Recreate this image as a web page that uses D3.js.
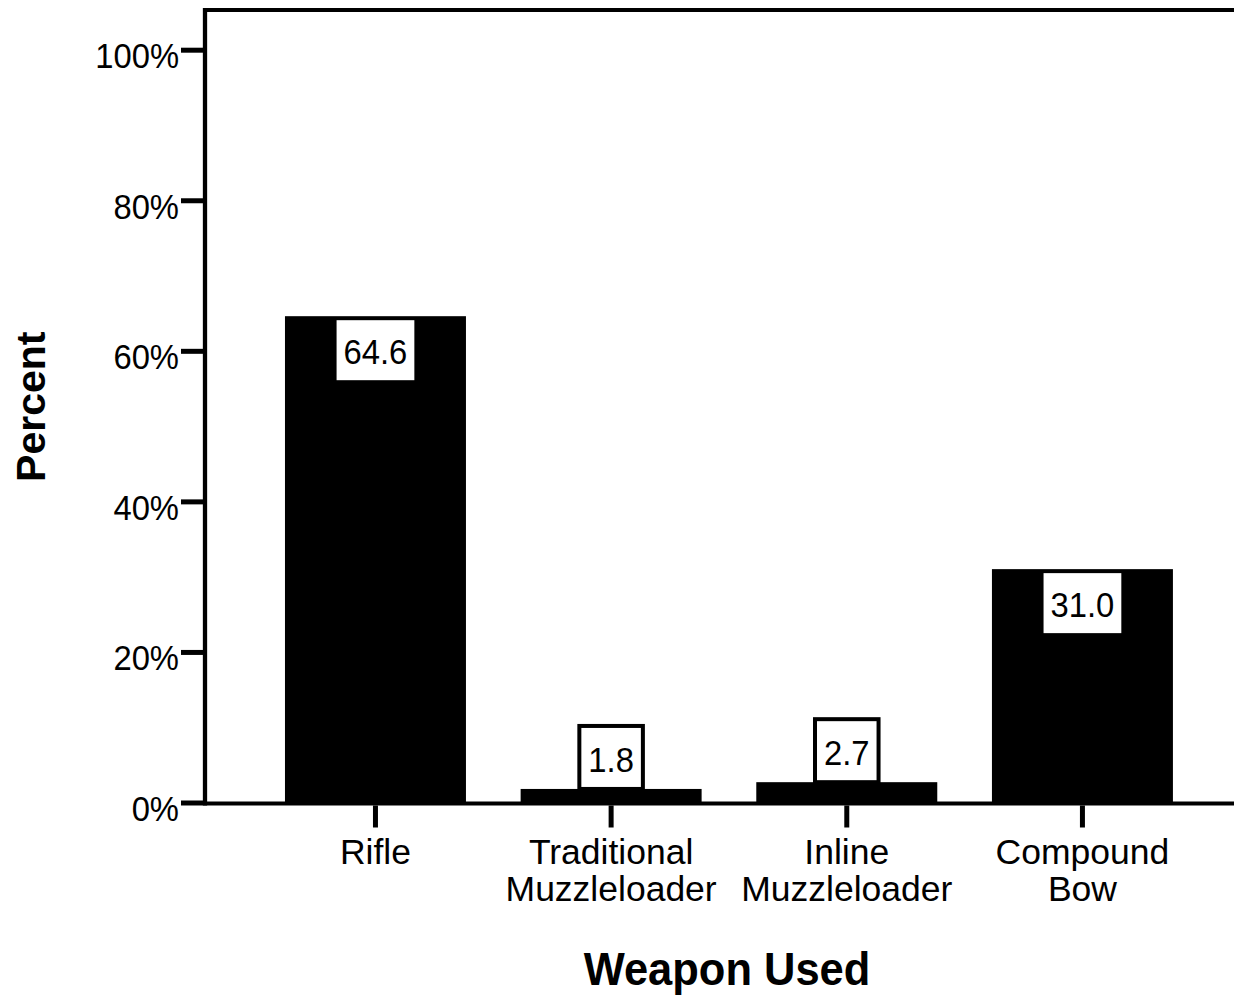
<!DOCTYPE html>
<html><head><meta charset="utf-8">
<script src="https://cdn.jsdelivr.net/npm/d3@7"></script>
<style>html,body{margin:0;padding:0;background:#fff;}svg{display:block;font-family:"Liberation Sans",Arial,sans-serif;}</style>
</head><body>
<svg id="c" width="1234" height="996"></svg>
<script>
const categories = ["Rifle", "Traditional Muzzleloader", "Inline Muzzleloader", "Compound Bow"];
const categoryLines = [["Rifle"], ["Traditional", "Muzzleloader"], ["Inline", "Muzzleloader"], ["Compound", "Bow"]];
const percentValues = [64.6, 1.8, 2.7, 31.0];
const valueLabels = ["64.6", "1.8", "2.7", "31.0"];
const yTicks = [0, 20, 40, 60, 80, 100];
const yTickLabels = ["0%", "20%", "40%", "60%", "80%", "100%"];
const xTitle = "Weapon Used";
const yTitle = "Percent";

(function () {
const svg = d3.select("#c");
const SX = 0.91;
const FF = '"Liberation Sans",Arial,sans-serif';
const plotLeft = 205, plotRight = 1234, plotTop = 10;
const x = d3.scaleBand().domain(categories).range([230.3, 1227.6]).padding(0.232);
const y = d3.scaleLinear().domain([0, 100]).range([802.5, 49.7]);

// bars
svg.append("g").selectAll("rect").data(categories).join("rect")
  .attr("x", d => x(d)).attr("width", x.bandwidth())
  .attr("y", (d, i) => y(percentValues[i]))
  .attr("height", (d, i) => y(0) + 2.5 - y(percentValues[i]))
  .attr("fill", "#000");

// frame lines
svg.append("line").attr("x1", plotLeft).attr("x2", plotRight).attr("y1", plotTop).attr("y2", plotTop).attr("stroke", "#000").attr("stroke-width", 4);
svg.append("line").attr("x1", plotLeft).attr("x2", plotLeft).attr("y1", plotTop - 2).attr("y2", y(0) + 3).attr("stroke", "#000").attr("stroke-width", 4.3);
svg.append("line").attr("x1", plotLeft).attr("x2", plotRight).attr("y1", y(0) + 1).attr("y2", y(0) + 1).attr("stroke", "#000").attr("stroke-width", 4);

// y axis
const yAxis = svg.append("g").attr("transform", `translate(${plotLeft},0)`)
  .call(d3.axisLeft(y).tickValues(yTicks).tickFormat((d, i) => yTickLabels[i]).tickSize(24).tickSizeOuter(0));
yAxis.select(".domain").remove();
yAxis.selectAll(".tick line").attr("stroke", "#000").attr("stroke-width", 5);
yAxis.selectAll(".tick text").attr("x", null).attr("dy", null)
  .attr("transform", `translate(-26,18) scale(${SX},1)`)
  .attr("fill", "#000").attr("font-size", 36).attr("font-family", FF);

// x axis
const xAxis = svg.append("g").attr("transform", `translate(0,${y(0) + 3})`)
  .call(d3.axisBottom(x).tickSize(22).tickSizeOuter(0));
xAxis.select(".domain").remove();
xAxis.selectAll(".tick line").attr("stroke", "#000").attr("stroke-width", 5);
xAxis.selectAll(".tick text").each(function(d, i) {
  const t = d3.select(this);
  t.text(null).attr("y", null).attr("dy", null)
    .attr("fill", "#000").attr("font-size", 35.5).attr("text-anchor", "middle")
    .attr("font-family", FF);
  categoryLines[i].forEach((ln, j) => {
    t.append("tspan").attr("x", 0).attr("y", 58 + j * 37).text(ln);
  });
});

// value labels
const lab = svg.append("g");
categories.forEach((c, i) => {
  const cx = x(c) + x.bandwidth() / 2;
  const ty = y(percentValues[i]);
  const g = lab.append("g");
  const txt = g.append("text").attr("font-size", 36).attr("text-anchor", "middle").attr("fill", "#000")
    .text(valueLabels[i]);
  const w = txt.node().getComputedTextLength() * SX;
  if (percentValues[i] > 10) {
    const bw = w + 14, bh = 60, by = ty + 4;
    g.insert("rect", "text").attr("x", cx - bw / 2).attr("y", by).attr("width", bw).attr("height", bh).attr("fill", "#fff");
    txt.attr("transform", `translate(${cx},${by + 44}) scale(${SX},1)`);
  } else {
    const bw = w + 22, bh = 65, by = ty - bh;
    g.insert("rect", "text").attr("x", cx - bw / 2 + 2).attr("y", by + 2).attr("width", bw - 4).attr("height", bh - 2)
      .attr("fill", "#fff").attr("stroke", "#000").attr("stroke-width", 4);
    txt.attr("transform", `translate(${cx},${by + 48}) scale(${SX},1)`);
  }
});

// titles
svg.append("text").attr("transform", `translate(727,985) scale(0.945,1)`).attr("text-anchor", "middle")
  .attr("font-size", 46).attr("font-weight", "bold").attr("fill", "#000").text(xTitle);
svg.append("text").attr("transform", `translate(45,406.7) rotate(-90)`).attr("text-anchor", "middle")
  .attr("font-size", 41).attr("font-weight", "bold").attr("fill", "#000").text(yTitle);
})();
</script>
</body></html>
